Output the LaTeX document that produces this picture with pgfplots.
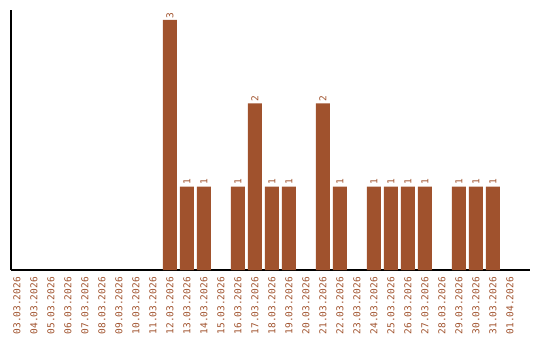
\documentclass[border=0pt]{standalone}
\usepackage{pgfplots}
\pgfplotsset{compat=1.18}
\usepackage{fontspec}
\setmonofont{DejaVu Sans Mono}
\definecolor{barc}{HTML}{A0522D}
\begin{document}
\begin{tikzpicture}[x=1pt,y=1pt]
\begin{axis}[
  at={(11pt,70pt)}, anchor=south west,
  scale only axis, width=519pt, height=260pt,
  xmin=-0.35, xmax=30.18, ymin=0, ymax=3.12,
  axis x line=bottom, axis y line=left,
  axis line style={-, line width=1.2pt, black},
  ytick=\empty,
  xtick={0,...,29},
  xticklabels={03.03.2026,04.03.2026,05.03.2026,06.03.2026,07.03.2026,08.03.2026,09.03.2026,10.03.2026,11.03.2026,12.03.2026,13.03.2026,14.03.2026,15.03.2026,16.03.2026,17.03.2026,18.03.2026,19.03.2026,20.03.2026,21.03.2026,22.03.2026,23.03.2026,24.03.2026,25.03.2026,26.03.2026,27.03.2026,28.03.2026,29.03.2026,30.03.2026,31.03.2026,01.04.2026},
  major tick length=0pt,
  xticklabel style={yshift=-7pt, rotate=90, anchor=east, font=\ttfamily\fontsize{9.5}{10}\selectfont, text=barc, inner sep=0pt},
  clip=false,
]
\addplot[ybar, bar width=0.82, fill=barc, draw=none,
  nodes near coords={\ttfamily\fontsize{9.5}{10}\selectfont\pgfmathprintnumber[assume math mode=true]{\pgfplotspointmeta}},
  nodes near coords style={rotate=90, anchor=west, text=barc, inner sep=1.5pt, scale=1}]
 coordinates {(9,3) (10,1) (11,1) (13,1) (14,2) (15,1) (16,1) (18,2) (19,1) (21,1) (22,1) (23,1) (24,1) (26,1) (27,1) (28,1)};
\end{axis}
\path (0,0) rectangle (540pt,340pt);
\end{tikzpicture}
\end{document}
